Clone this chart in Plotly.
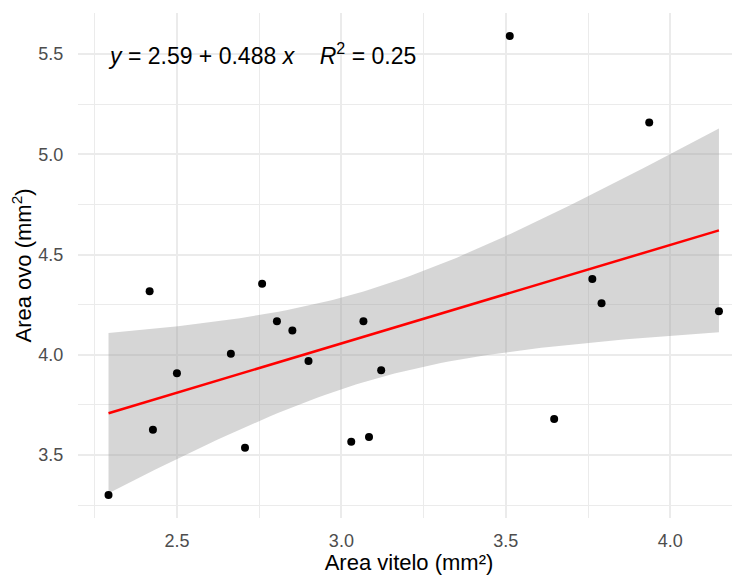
import numpy as np
import plotly.graph_objects as go

# Data
area_vitelo = [2.292, 2.417, 2.427, 2.500, 2.664, 2.707, 2.759, 2.804, 2.851, 2.900,
               3.030, 3.067, 3.084, 3.121, 3.512, 3.647, 3.763, 3.791, 3.936, 4.148]
area_ovo = [3.301, 4.317, 3.627, 3.908, 4.006, 3.537, 4.355, 4.167, 4.121, 3.969,
            3.567, 4.167, 3.590, 3.923, 5.590, 3.680, 4.378, 4.257, 5.158, 4.218]

x_ticks = [2.5, 3.0, 3.5, 4.0]
y_ticks = [3.5, 4.0, 4.5, 5.0, 5.5]
x_title = "Area vitelo (mm²)"
y_title = "Area ovo (mm<sup>2</sup>)"
eq_label = "<i>y</i> = 2.59 + 0.488 <i>x</i>&nbsp;&nbsp;&nbsp;&nbsp;<i>R</i><sup>2</sup> = 0.25"

# Linear model fit with 95% confidence band (as geom_smooth(method="lm"))
x = np.array(area_vitelo)
y = np.array(area_ovo)
n = len(x)
slope, intercept = np.polyfit(x, y, 1)
resid = y - (intercept + slope * x)
s = np.sqrt(np.sum(resid ** 2) / (n - 2))
t_crit = 2.100922  # t(0.975, df=18)
xs = np.linspace(x.min(), x.max(), 80)
fit = intercept + slope * xs
se = s * np.sqrt(1.0 / n + (xs - x.mean()) ** 2 / np.sum((x - x.mean()) ** 2))
upper = fit + t_crit * se
lower = fit - t_crit * se

fig = go.Figure()
fig.add_trace(go.Scatter(
    x=np.concatenate([xs, xs[::-1]]), y=np.concatenate([upper, lower[::-1]]),
    fill="toself", fillcolor="rgba(153,153,153,0.4)", line=dict(width=0),
    mode="lines", hoverinfo="skip", showlegend=False))
fig.add_trace(go.Scatter(x=xs, y=fit, mode="lines",
                         line=dict(color="#FF0000", width=2.5), showlegend=False))
fig.add_trace(go.Scatter(x=area_vitelo, y=area_ovo, mode="markers",
                         marker=dict(color="black", size=8), showlegend=False))

x_span = x.max() - x.min()
y_span = y.max() - y.min()
x_lo = x.min() - 0.05 * x_span
y_lo = y.min() - 0.05 * y_span
y_hi = y.max() + 0.05 * y_span

grid = "#EBEBEB"
# page body adds an 8px offset, so the figure is 8px smaller to fill the window
fig.update_layout(
    width=732, height=567,
    margin=dict(l=70, r=0, t=5, b=57),
    plot_bgcolor="white", paper_bgcolor="white",
    font=dict(family="Liberation Sans, Arial, sans-serif"),
    xaxis=dict(range=[x_lo, 4.212], tickvals=x_ticks, ticktext=[f"{v:.1f}" for v in x_ticks],
               showgrid=True, gridcolor=grid, gridwidth=1.6, zeroline=False, showline=False,
               ticks="outside", ticklen=6, tickcolor="rgba(0,0,0,0)", automargin=False,
               tickfont=dict(size=18, color="#4D4D4D"),
               minor=dict(tickvals=[2.25, 2.75, 3.25, 3.75], showgrid=True, gridcolor=grid, gridwidth=1.2),
               title=dict(text=x_title, font=dict(size=22, color="black"), standoff=2)),
    yaxis=dict(range=[y_lo, y_hi], tickvals=y_ticks, ticktext=[f"{v:.1f}" for v in y_ticks],
               showgrid=True, gridcolor=grid, gridwidth=1.6, zeroline=False, showline=False,
               ticks="outside", ticklen=10, tickcolor="rgba(0,0,0,0)", automargin=False,
               tickfont=dict(size=18, color="#4D4D4D"),
               minor=dict(tickvals=[3.25, 3.75, 4.25, 4.75, 5.25], showgrid=True, gridcolor=grid, gridwidth=1.2),
               title=dict(text=y_title, font=dict(size=22, color="black"), standoff=4)),
    annotations=[dict(text=eq_label, xref="paper", yref="paper", x=0.042, y=0.918,
                      xanchor="left", yanchor="middle", showarrow=False,
                      font=dict(size=23, color="black"))],
)

fig.write_html("out.html")
